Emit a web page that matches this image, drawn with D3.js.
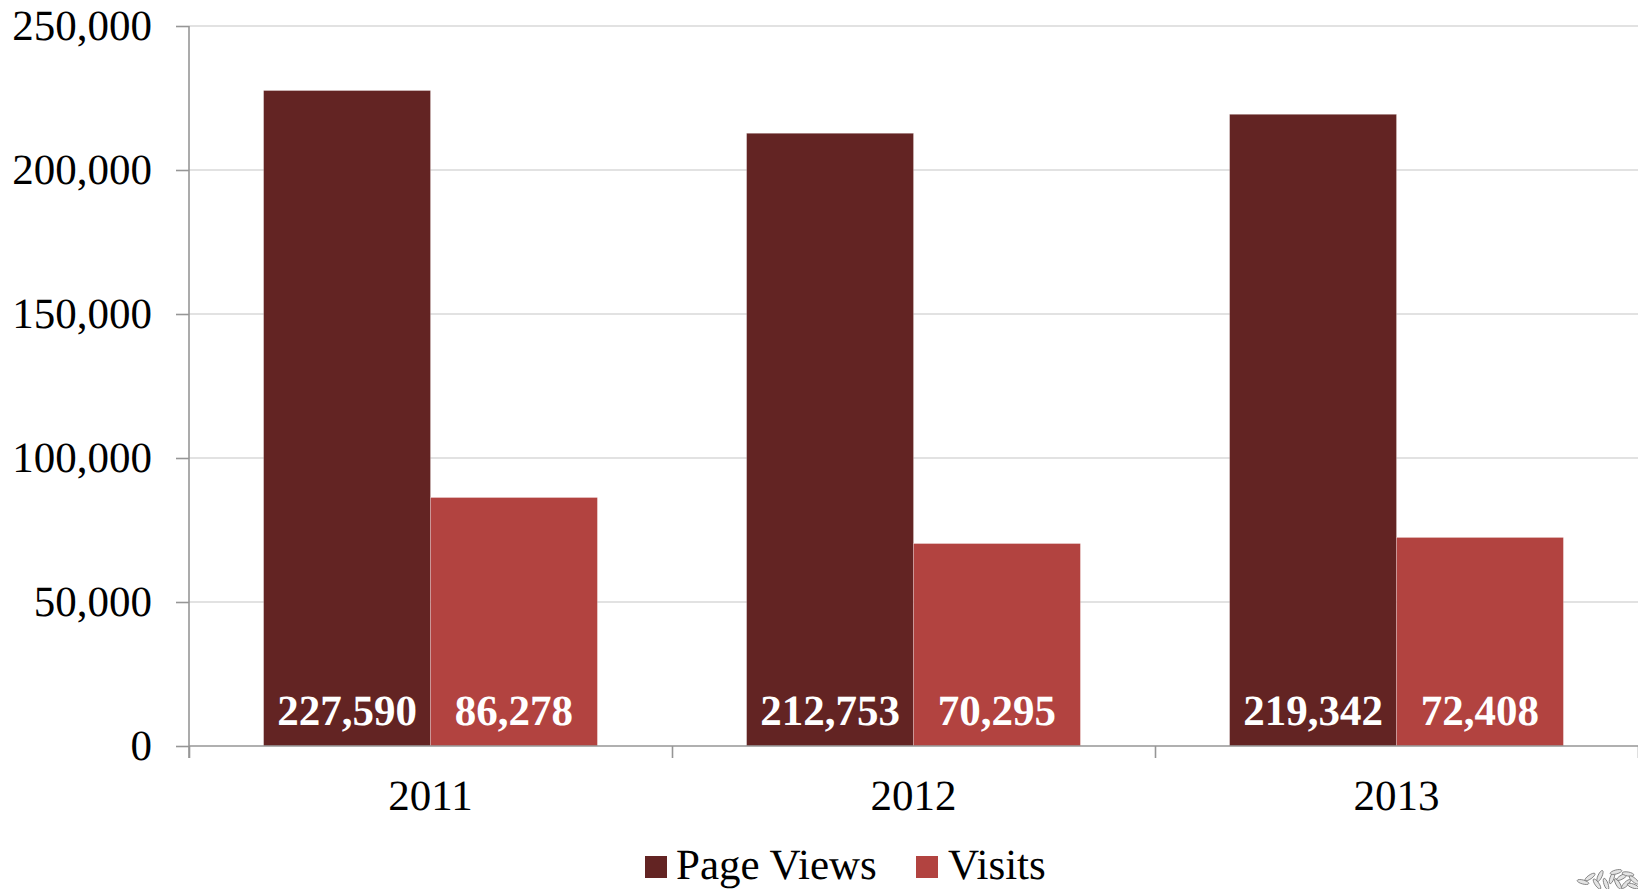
<!DOCTYPE html>
<html><head><meta charset="utf-8">
<style>html,body{margin:0;padding:0;background:#fff;overflow:hidden}svg{display:block}text{font-family:"Liberation Serif",serif;text-rendering:geometricPrecision}</style>
<script src="https://cdn.jsdelivr.net/npm/d3@7"></script></head>
<body><svg id="c" width="1638" height="889"></svg>
<script>
const years=["2011","2012","2013"];
const seriesNames=["Page Views","Visits"];
const pageViews=[227590,212753,219342];
const visits=[86278,70295,72408];
const yTicks=[0,50000,100000,150000,200000,250000];
const colors=["#632423","#B24340"];
const svg=d3.select("#c");
const x0=189,x1=1638,yTop=26,yBot=746;
const fs="43px";
const y=d3.scaleLinear().domain([0,250000]).range([yBot,yTop]);
const x=d3.scaleBand().domain(years).range([x0,x1]).paddingInner(0).paddingOuter(0);
const inner=d3.scaleBand().domain(seriesNames).range([0,x.bandwidth()]).paddingInner(0).paddingOuter(0.447);
const fmt=d3.format(",");
svg.append("g").selectAll("line").data(yTicks.slice(1)).join("line")
 .attr("x1",x0).attr("x2",x1).attr("y1",d=>y(d)).attr("y2",d=>y(d))
 .attr("stroke","#d9d9d9").attr("stroke-width",1.6);
const data=[pageViews,visits];
seriesNames.forEach((s,si)=>{
 svg.append("g").selectAll("rect").data(data[si]).join("rect")
  .attr("x",(d,i)=>x(years[i])+inner(s)).attr("width",inner.bandwidth())
  .attr("y",d=>y(d)).attr("height",d=>yBot-y(d)).attr("fill",colors[si])
  .attr("stroke","#ffffff").attr("stroke-opacity",0.3).attr("stroke-width",0.8);
});
const ya=d3.axisLeft(y).tickValues(yTicks).tickFormat(fmt).tickSize(13).tickPadding(0);
const yg=svg.append("g").attr("transform",`translate(${x0},0)`).call(ya);
yg.select(".domain").attr("stroke","#969696").attr("stroke-width",1.6).attr("d",`M0,${yTop}V${yBot+12}`);
yg.selectAll(".tick line").attr("stroke","#969696").attr("stroke-width",1.6);
yg.selectAll(".tick text").attr("x",-37).attr("dy",0).attr("y",13).attr("fill","#000").style("font-size",fs).style("font-family","Liberation Serif");
const xa=d3.axisBottom(d3.scalePoint().domain(d3.range(4)).range([x0,x1])).tickSize(12).tickFormat("");
const xg=svg.append("g").attr("transform",`translate(0,${yBot})`).call(xa);
xg.select(".domain").attr("stroke","#969696").attr("stroke-width",1.6).attr("d",`M${x0},0H${x1}`);
xg.selectAll(".tick line").attr("stroke","#969696").attr("stroke-width",1.6);
svg.append("g").selectAll("text").data(years).join("text")
 .attr("x",d=>x(d)+x.bandwidth()/2).attr("y",810).attr("text-anchor","middle")
 .attr("fill","#000").style("font-size",fs).text(d=>d);
seriesNames.forEach((s,si)=>{
 svg.append("g").selectAll("text").data(data[si]).join("text")
  .attr("x",(d,i)=>x(years[i])+inner(s)+inner.bandwidth()/2).attr("y",725)
  .attr("text-anchor","middle").attr("fill","#fff").attr("font-weight","bold")
  .style("font-size",fs).text(d=>fmt(d));
});
const lx=[645,916],tx=[676,948];
seriesNames.forEach((s,i)=>{
 svg.append("rect").attr("x",lx[i]).attr("y",856).attr("width",22).attr("height",22).attr("fill",colors[i]);
 svg.append("text").attr("x",tx[i]).attr("y",879).attr("fill","#000").style("font-size",fs).text(s);
});
// small leaf ornament in the lower right corner
const leafCx=[1583,1590,1597,1600,1606,1612,1618,1622,1628,1634,1616,1626,1633];
const leafCy=[882,877,884,876,884,878,884,877,874,880,872,884,886];
const leafAng=[15,-35,55,-65,70,-70,60,-30,10,40,-15,-45,20];
svg.append("g").selectAll("ellipse").data(leafCx).join("ellipse")
 .attr("cx",d=>d).attr("cy",(d,i)=>leafCy[i]).attr("rx",6).attr("ry",2)
 .attr("transform",(d,i)=>`rotate(${leafAng[i]} ${d} ${leafCy[i]})`)
 .attr("fill","#e4e4e4").attr("stroke","#777").attr("stroke-width",0.8);
</script></body></html>
